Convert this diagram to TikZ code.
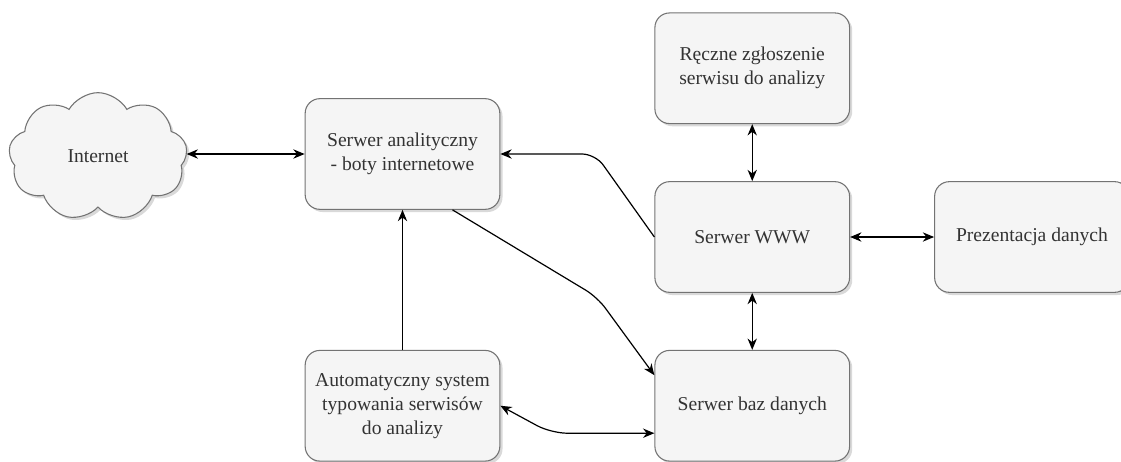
\documentclass[tikz,border=0pt]{standalone}
\usepackage{fontspec}
\setmainfont{Liberation Serif}
\usetikzlibrary{positioning}
\usetikzlibrary{calc}
\usetikzlibrary{shapes.symbols, shadows, arrows.meta}

\begin{document}
\begin{tikzpicture}[
            greysquarednode/.style={rectangle, rounded corners=11pt, draw=black!55, fill=black!4, line width=0.8pt, minimum width=146pt, minimum height=83pt, align=center, text=black!80, font=\fontsize{14.7pt}{18pt}\selectfont, drop shadow={shadow xshift=2pt, shadow yshift=-2pt, opacity=0.3}},
            greycloudnode/.style={cloud, cloud puffs=9, cloud puff arc=120, aspect=1.4, draw=black!55, fill=black!4, line width=0.8pt, minimum width=134pt, minimum height=96pt, text=black!80, font=\fontsize{14.7pt}{18pt}\selectfont, drop shadow={shadow xshift=2pt, shadow yshift=-2pt, opacity=0.3}},
            link/.style={line width=0.9pt, >={Stealth[length=8.5pt, width=7pt]}},
            ]
            \useasboundingbox (0,0) rectangle (840.75pt,-345.75pt);

            \node[greysquarednode] (A) at (301.875pt,-115.5pt) {Serwer analityczny\\- boty internetowe};
            \node[greycloudnode, left=88.5pt of A, yshift=-2pt] (I) {Internet};
            \node[greysquarednode, below=105pt of A] (C) {Automatyczny system\\typowania serwisów\\do analizy};
            \node[greysquarednode, right=115.5pt of C] (B) {Serwer baz danych};
            \node[greysquarednode, above=42.75pt of B] (W) {Serwer WWW};
            \node[greysquarednode, above=42.75pt of W] (R) {Ręczne zgłoszenie\\serwisu do analizy};
            \node[greysquarednode, right=63pt of W] (P) {Prezentacja danych};

            \draw[link, <->] (I.east |- A.west) -- (A.west);
            \draw[link, ->, rounded corners=10pt] (W.west) -- ($(A.east)+(71.25pt,0)$) -- (A.east);
            \draw[link, ->, rounded corners=10pt] ([xshift=37.5pt]A.south) -- ($(B.west)+(-42.75pt,81.4pt)$) -- ([yshift=22.9pt]B.west);
            \draw[link, ->] (C.north) -- (A.south);
            \draw[link, <->, rounded corners=12pt] (C.east) -- ($(C.east)+(38pt,-20.6pt)$) -- ([yshift=-20.6pt]B.west);
            \draw[link, <->] (R.south) -- (W.north);
            \draw[link, <->] (W.south) -- (B.north);
            \draw[link, <->] (W.east) -- (P.west);
        \end{tikzpicture}
\end{document}
